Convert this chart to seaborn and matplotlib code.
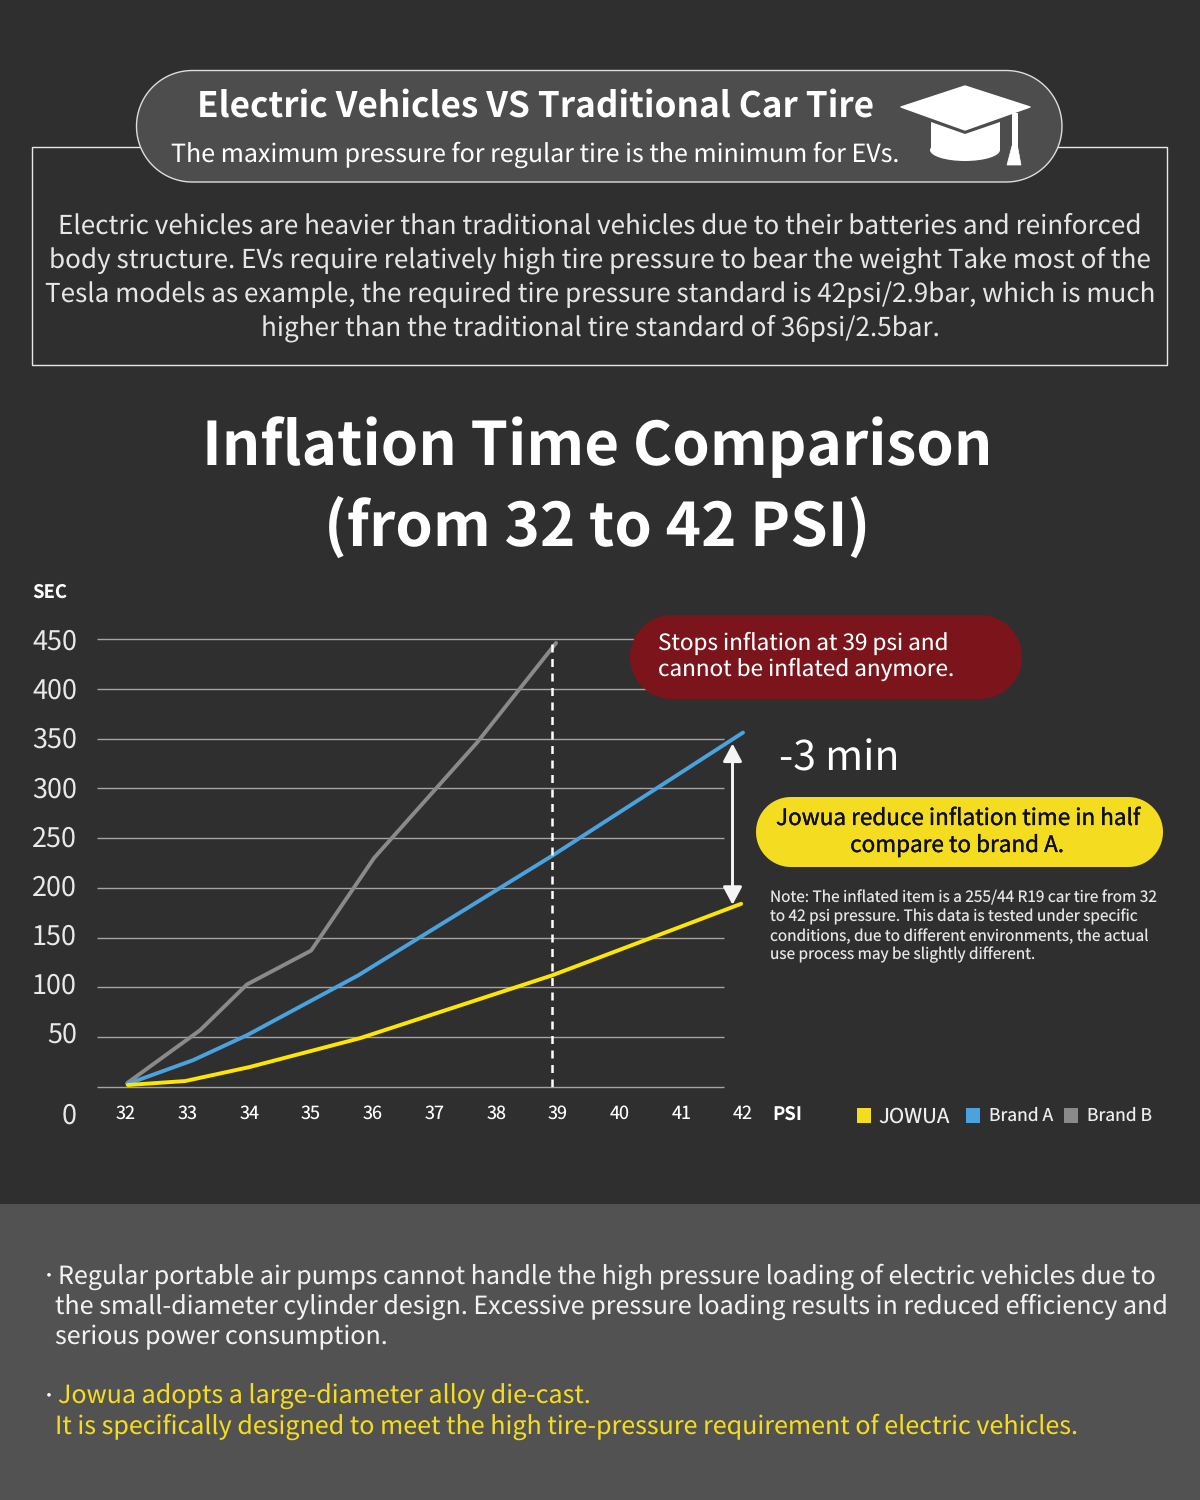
import numpy as np
import pandas as pd
import matplotlib
matplotlib.use('Agg')
import matplotlib.pyplot as plt
import matplotlib.patheffects as pe
from matplotlib.patches import Rectangle, Polygon, Ellipse
from matplotlib.transforms import ScaledTranslation
import seaborn as sns

# values
psi_ticks = [32, 33, 34, 35, 36, 37, 38, 39, 40, 41, 42]
sec_ticks = [0, 50, 100, 150, 200, 250, 300, 350, 400, 450]

jowua_psi = [32.03, 32.96, 34.0, 35.79, 38.9, 41.97]
jowua_sec = [2, 6, 20, 49, 112, 184]
brand_a_psi = [32.02, 33.09, 33.96, 35.76, 38.9, 42.0]
brand_a_sec = [3, 27, 52, 112, 232, 356]
brand_b_psi = [32.02, 33.2, 33.96, 35.0, 36.02, 37.69, 38.97]
brand_b_sec = [4, 57, 103, 137, 230, 346, 446]

limit_psi = 38.9
gain_top = 345
gain_bottom = 183

body_lines = [
    'Electric vehicles are heavier than traditional vehicles due to their batteries and reinforced',
    'body structure. EVs require relatively high tire pressure to bear the weight Take most of the',
    'Tesla models as example, the required tire pressure standard is 42psi/2.9bar, which is much',
    'higher than the traditional tire standard of 36psi/2.5bar.',
]
note_lines = [
    'Note: The inflated item is a 255/44 R19 car tire from 32',
    'to 42 psi pressure. This data is tested under specific',
    'conditions, due to different environments, the actual',
    'use process may be slightly different.',
]

BG = '#2f2f2f'
BAND = '#525252'
YELLOW = '#ffe600'
BLUE = '#4aa3df'
GREY = '#8a8a8a'
GRID = '#a8a39f'

sns.set_style('dark')
plt.rcParams['font.family'] = ['Noto Sans CJK SC', 'DejaVu Sans']
plt.rcParams['text.hinting'] = 'none'
plt.rcParams['text.hinting_factor'] = 1


def px(size):
    # font size given in pixels at dpi 100
    return size * 0.72


df = pd.concat([
    pd.DataFrame({'psi': jowua_psi, 'sec': jowua_sec, 'brand': 'JOWUA'}),
    pd.DataFrame({'psi': brand_a_psi, 'sec': brand_a_sec, 'brand': 'Brand A'}),
    pd.DataFrame({'psi': brand_b_psi, 'sec': brand_b_sec, 'brand': 'Brand B'}),
])

fig = plt.figure(figsize=(12, 15), dpi=100, facecolor=BG)

# chart axes, 32 psi sits at x=126 and 42 psi at x=743, 0 s at y=1087 and 450 s at y=639
left, right = 97, 760
bottom, top = 1087, 630
ax = fig.add_axes([left / 1200, 1 - bottom / 1500, (right - left) / 1200, (bottom - top) / 1500])
ax.set_facecolor('none')
per_psi = (743 - 126) / 10
per_sec = (1087 - 639) / 450
ax.set_xlim(32 - (126 - left) / per_psi, 42 + (right - 743) / per_psi)
ax.set_ylim(0, (bottom - top) / per_sec)
for s in ax.spines.values():
    s.set_visible(False)

ax.hlines(sec_ticks, ax.get_xlim()[0], 32 + (724 - 126) / per_psi, color=GRID, lw=1, zorder=1, clip_on=False)
ax.vlines(limit_psi, 0, 446, color='white', lw=1.8, linestyles=(0, (3.2, 2.6)), zorder=4)

sns.lineplot(data=df[df.brand == 'Brand B'], x='psi', y='sec', color=GREY, lw=2.8, sort=False, ax=ax, zorder=2)
sns.lineplot(data=df[df.brand == 'Brand A'], x='psi', y='sec', color=BLUE, lw=2.8, sort=False, ax=ax, zorder=3)
sns.lineplot(data=df[df.brand == 'JOWUA'], x='psi', y='sec', color=YELLOW, lw=2.8, sort=False, ax=ax, zorder=3)

ax.annotate('', xy=(41.83, gain_top), xytext=(41.83, gain_bottom),
            arrowprops=dict(arrowstyle='<|-|>,head_length=0.45,head_width=0.24', color='#f5f5f5', lw=2.1,
                            mutation_scale=24, shrinkA=0, shrinkB=0),
            zorder=5)

ax.set_xticks(psi_ticks)
ax.set_xticklabels(psi_ticks)
ax.set_yticks(sec_ticks[1:])
ax.set_yticklabels(sec_ticks[1:])
ax.tick_params(axis='x', length=0, pad=12.8, labelsize=px(18), labelcolor='white')
ax.tick_params(axis='y', length=0, pad=14.4, labelsize=px(27), labelcolor='#e8e8e8')
# the labels in the picture are packed a little tighter than the gridlines
for t, v in zip(ax.get_yticklabels(), sec_ticks[1:]):
    t.set_transform(t.get_transform() + ScaledTranslation(0, (450 - v) / 400 * 5 / 100, fig.dpi_scale_trans))
ax.set_xlabel('')
ax.set_ylabel('')
ax.annotate('0', xy=(0, 0), xycoords=('axes fraction', 'data'), xytext=(-14.4, -21),
            textcoords='offset points', ha='right', va='center', color='#e8e8e8', fontsize=px(27))

# overlay in picture pixels for the infographic furniture
ov = fig.add_axes([0, 0, 1, 1], zorder=5)
ov.set_xlim(0, 1200)
ov.set_ylim(1500, 0)
ov.axis('off')
ov.patch.set_alpha(0)


def text(x, y, s, size, color='white', weight='regular', ha='center', stroke=0):
    t = ov.text(x, y + size * 0.07, s, fontsize=px(size), color=color, fontweight=weight, ha=ha, va='center')
    if stroke:
        t.set_path_effects([pe.withStroke(linewidth=stroke, foreground=color)])


def pill(x0, y0, x1, y1, fc, ec='none', lw=0):
    r = (y1 - y0) / 2
    cy = (y0 + y1) / 2
    a = np.linspace(-np.pi / 2, np.pi / 2, 60)
    xs = np.r_[x1 - r + r * np.cos(a), x0 + r - r * np.cos(a)]
    ys = np.r_[cy + r * np.sin(a), cy - r * np.sin(a)]
    ov.add_patch(Polygon(np.c_[xs, ys], closed=True, fc=fc, ec=ec, lw=lw))


ov.add_patch(Rectangle((0, 1204), 1200, 296, fc=BAND, ec='none'))

# header box and pill
ov.add_patch(Rectangle((32.2, 147.2), 1135, 218, fc='none', ec='#e8e8e8', lw=1))
pill(136.5, 70.5, 1062, 182, '#4d4d4d', '#dddddd', 1)
text(536, 104, 'Electric Vehicles VS Traditional Car Tire', 35.1, weight='bold')
text(535, 153, 'The maximum pressure for regular tire is the minimum for EVs.', 25.05)

# graduation cap
ov.add_patch(Polygon([(901, 107), (965, 86), (1030, 107), (965, 130)], fc='white', ec='white', lw=1, joinstyle='round'))
ov.add_patch(Ellipse((965, 150), 70, 22, fc='white', ec='none'))
ov.add_patch(Polygon([(931, 122), (965, 134), (1000, 122), (1000, 150), (931, 150)], fc='white', ec='none'))
ov.add_patch(Rectangle((1012, 113), 5.5, 35, fc='white', ec='none'))
ov.add_patch(Polygon([(1012, 146), (1017.5, 146), (1021, 165), (1007, 165)], fc='white', ec='white', lw=0.5))

for i, line in enumerate(body_lines):
    text(600, 224.5 + i * 34, line, 26.1, color='#e6e6e6', weight='light')

text(597, 443, 'Inflation Time Comparison', 60.1, weight='bold')
text(597, 523.5, '(from 32 to 42 PSI)', 60.1, weight='bold')

text(32, 591, 'SEC', 18.5, weight='bold', ha='left')
text(772, 1113, 'PSI', 18.5, weight='bold', ha='left')

# callouts
pill(630, 615, 1022, 699, '#7b151b')
text(658, 641.5, 'Stops inflation at 39 psi and', 22.5, ha='left')
text(658, 667.5, 'cannot be inflated anymore.', 22.5, ha='left')

text(779, 755.5, '-3 min', 41, ha='left')

pill(756, 797, 1163, 867, '#f4dc20')
text(958, 817, 'Jowua reduce inflation time in half', 22.5, color='#0f0f0f', weight='medium', stroke=0.25)
text(957, 844, 'compare to brand A.', 22.5, color='#0f0f0f', weight='medium', stroke=0.25)

for i, line in enumerate(note_lines):
    text(770, 897 + i * 19, line, 15.4, color='#e6e6e6', weight='light', ha='left')

# legend
for x0, c in [(857, '#f4dc20'), (966, BLUE), (1064, GREY)]:
    ov.add_patch(Rectangle((x0, 1108), 14, 14.5, fc=c, ec='none'))
text(878, 1115, 'JOWUA', 20.5, color='#eeeeee', ha='left')
text(989, 1114.5, 'Brand A', 17.5, color='#eeeeee', ha='left')
text(1087, 1114.5, 'Brand B', 17.5, color='#eeeeee', ha='left')

# bottom band
text(41, 1275, '\u2022', 16, ha='left')
text(58, 1275, 'Regular portable air pumps cannot handle the high pressure loading of electric vehicles due to', 25.07, color='#f2f2f2', ha='left')
text(55, 1305, 'the small-diameter cylinder design. Excessive pressure loading results in reduced efficiency and', 25.07, color='#f2f2f2', ha='left')
text(55, 1335, 'serious power consumption.', 25.07, color='#f2f2f2', ha='left')
text(41, 1395, '\u2022', 16, ha='left')
text(58, 1395, 'Jowua adopts a large-diameter alloy die-cast.', 25.07, color='#f4dc20', ha='left')
text(55, 1425, 'It is specifically designed to meet the high tire-pressure requirement of electric vehicles.', 25.07, color='#f4dc20', ha='left')

fig.savefig('out.png', dpi=100, facecolor=BG)
